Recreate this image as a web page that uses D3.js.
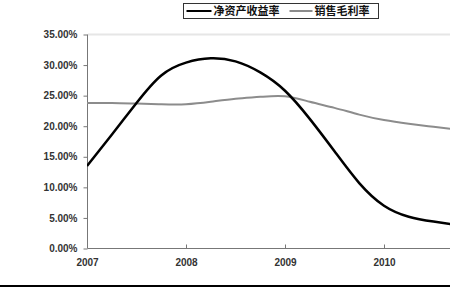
<!DOCTYPE html>
<head>
    <meta charset="utf-8">
    <title>净资产收益率 / 销售毛利率</title>
    <script src="https://d3js.org/d3.v7.min.js"></script>
    <style>
    body { margin: 0; background: #fff; }
    text { font-family: "Liberation Sans", Arial, sans-serif; }
    </style>
</head>
<body>
    <script>
    // quarterly readings, 2007 .. 2010.75
    var periods = d3.range(0, 16).map(function(i) { return 2007 + i / 4; });
    var roe    = [13.5, 18.6, 23.8, 28.3, 30.4, 31.1, 30.6, 28.8, 25.8, 21.2, 15.9, 10.7, 7.0, 5.2, 4.4, 3.8];
    var margin = [23.8, 23.8, 23.7, 23.6, 23.6, 24.0, 24.5, 24.8, 24.9, 24.0, 23.0, 21.9, 21.0, 20.4, 19.9, 19.4];
    var seriesNames = ["净资产收益率", "销售毛利率"];
    var seriesColors = ["#000", "#8c8c8c"];
    var yTicks = [0, 5, 10, 15, 20, 25, 30, 35];
    var xTicks = [2007, 2008, 2009, 2010];

    var width = 450, height = 287;

    var svg = d3.select("body").append("svg")
        .attr("width", width)
        .attr("height", height);

    var x = d3.scaleLinear().domain([2007, 2010]).range([87, 384]);
    var y = d3.scaleLinear().domain([0, 35]).range([248.5, 34.5]);

    svg.append("defs").append("clipPath").attr("id", "plot")
        .append("rect").attr("x", 87).attr("y", 20).attr("width", width - 87).attr("height", 240);

    // top border of plot area
    svg.append("line")
        .attr("x1", 88).attr("x2", width)
        .attr("y1", y(35)).attr("y2", y(35))
        .attr("stroke", "#e6e6e6").attr("stroke-width", 2);

    // y axis
    var yAxis = svg.append("g")
        .attr("transform", "translate(87.5,0)")
        .call(d3.axisLeft(y).tickValues(yTicks).tickSize(4).tickPadding(6)
            .tickFormat(function(d) { return d3.format(".2f")(d) + "%"; }));
    yAxis.select(".domain").attr("stroke", "#777").attr("d", "M0," + y(35) + "V" + y(0));
    yAxis.selectAll(".tick line").attr("stroke", "#777");
    yAxis.selectAll("text")
        .attr("fill", "#333").style("font-size", "10px").style("font-weight", "bold");

    // x axis
    var xAxis = svg.append("g")
        .attr("transform", "translate(0," + y(0) + ")")
        .call(d3.axisBottom(x).tickValues(xTicks).tickSize(0).tickPadding(10)
            .tickFormat(d3.format("d")));
    xAxis.select(".domain").attr("stroke", "#777").attr("d", "M87.5,0H" + width);
    xAxis.selectAll(".tick").filter(function(d) { return d > 2007; })
        .append("line").attr("y1", 0).attr("y2", -4).attr("stroke", "#777");
    xAxis.selectAll("text")
        .attr("fill", "#333").style("font-size", "10px").style("font-weight", "bold");

    var line = d3.line()
        .x(function(d, i) { return x(periods[i]); })
        .y(function(d) { return y(d); })
        .curve(d3.curveNatural);

    svg.append("g").attr("clip-path", "url(#plot)")
        .selectAll("path")
        .data([margin, roe])
        .enter().append("path")
            .attr("fill", "none")
            .attr("stroke", function(d, i) { return i === 0 ? seriesColors[1] : seriesColors[0]; })
            .attr("stroke-width", function(d, i) { return i === 0 ? 2 : 2.5; })
            .attr("d", line);

    // legend
    var lg = svg.append("g").attr("transform", "translate(183.5,3.5)");
    lg.append("rect")
        .attr("width", 195).attr("height", 15)
        .attr("fill", "#fff").attr("stroke", "#333");
    var items = [{x: 3, w: 25}, {x: 106, w: 23}];
    items.forEach(function(it, i) {
        lg.append("line")
            .attr("x1", it.x).attr("x2", it.x + it.w)
            .attr("y1", 7.5).attr("y2", 7.5)
            .attr("stroke", seriesColors[i]).attr("stroke-width", 2);
        lg.append("text")
            .attr("x", it.x + it.w + 2).attr("y", 11.5)
            .style("font-family", "'Noto Sans CJK SC', sans-serif")
            .style("font-size", "11px").style("font-weight", "bold")
            .attr("fill", "#111")
            .text(seriesNames[i]);
    });

    // bottom rule
    svg.append("line")
        .attr("x1", 0).attr("x2", width)
        .attr("y1", 286).attr("y2", 286)
        .attr("stroke", "#000").attr("stroke-width", 2);
    </script>
</body>
